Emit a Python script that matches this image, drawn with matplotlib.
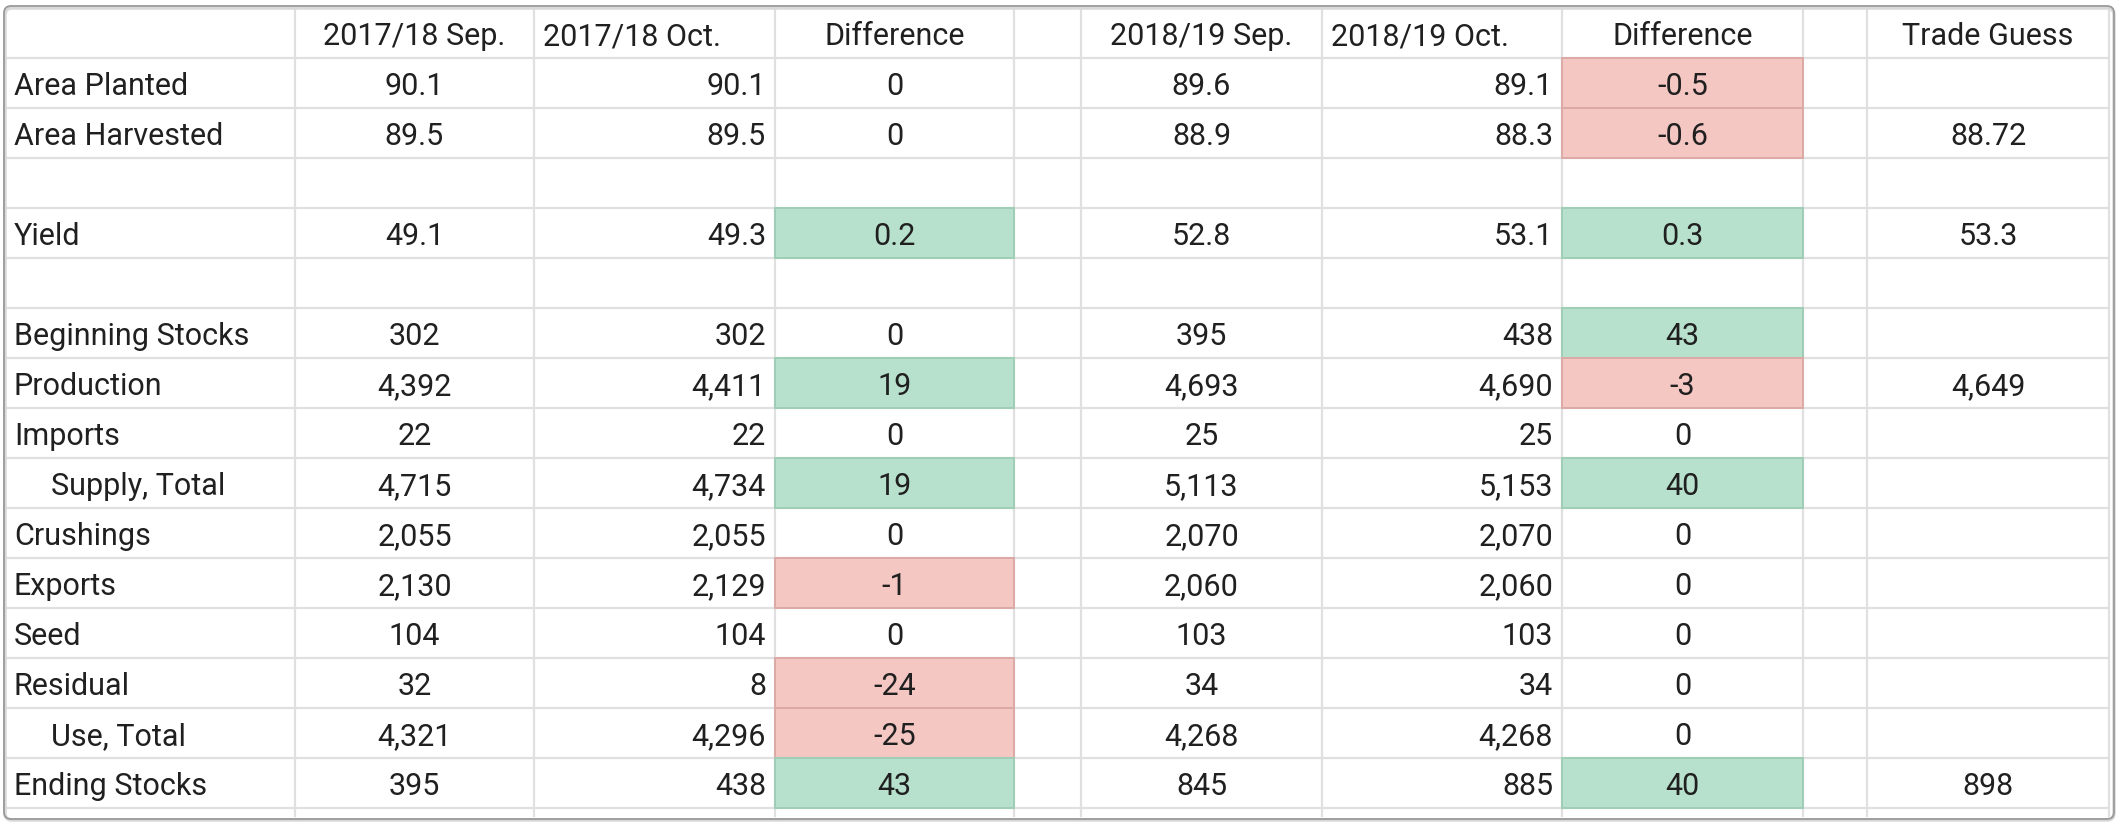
import matplotlib.pyplot as plt
from matplotlib.patches import Rectangle, FancyBboxPatch

plt.rcParams["font.family"] = ["Roboto", "DejaVu Sans"]

headers = ["", "2017/18 Sep.", "2017/18 Oct.", "Difference", "",
           "2018/19 Sep.", "2018/19 Oct.", "Difference", "", "Trade Guess"]

labels = ["Area Planted", "Area Harvested", "", "Yield", "", "Beginning Stocks",
          "Production", "Imports", "Supply, Total", "Crushings", "Exports",
          "Seed", "Residual", "Use, Total", "Ending Stocks"]
indented = ["Supply, Total", "Use, Total"]

sep_17 = ["90.1", "89.5", "", "49.1", "", "302", "4,392", "22", "4,715",
          "2,055", "2,130", "104", "32", "4,321", "395"]
oct_17 = ["90.1", "89.5", "", "49.3", "", "302", "4,411", "22", "4,734",
          "2,055", "2,129", "104", "8", "4,296", "438"]
diff_17 = ["0", "0", "", "0.2", "", "0", "19", "0", "19",
           "0", "-1", "0", "-24", "-25", "43"]
sep_18 = ["89.6", "88.9", "", "52.8", "", "395", "4,693", "25", "5,113",
          "2,070", "2,060", "103", "34", "4,268", "845"]
oct_18 = ["89.1", "88.3", "", "53.1", "", "438", "4,690", "25", "5,153",
          "2,070", "2,060", "103", "34", "4,268", "885"]
diff_18 = ["-0.5", "-0.6", "", "0.3", "", "43", "-3", "0", "40",
           "0", "0", "0", "0", "0", "40"]
trade_guess = ["", "88.72", "", "53.3", "", "", "4,649", "", "",
               "", "", "", "", "", "898"]

# layout in pixels
col_edges = [4, 295, 534, 775, 1014, 1081, 1322, 1562, 1803, 1867, 2109]
header_top = 9
row_h = 50
top = 59
text_col = "#202020"
grid_col = "#e0e0e0"
fs = 22

fig = plt.figure(figsize=(21.2, 8.28), dpi=100)
ax = fig.add_axes([0, 0, 1, 1])
ax.set_xlim(0, 2120)
ax.set_ylim(828, 0)
ax.axis("off")

n = len(labels)
bottom = top + n * row_h

# grid
for i in range(n + 1):
    y = top + i * row_h
    ax.plot([col_edges[0], col_edges[-1]], [y, y], color=grid_col, lw=1.6, zorder=1)
for x in col_edges[1:]:
    ax.plot([x, x], [header_top, bottom + 8], color=grid_col, lw=1.6, zorder=1)

# highlighted difference cells
for ci, col in ((3, diff_17), (7, diff_18)):
    for ri, v in enumerate(col):
        if v == "" or float(v) == 0:
            continue
        if float(v) > 0:
            fc, ec = "#b7e1cd", "#9fcdb5"
        else:
            fc, ec = "#f4c7c3", "#dcaaa6"
        y0 = top + ri * row_h
        ax.add_patch(Rectangle((col_edges[ci], y0), col_edges[ci + 1] - col_edges[ci], row_h,
                               facecolor=fc, edgecolor=ec, lw=1.4, zorder=2))

def put(txt, ci, y, align):
    x0, x1 = col_edges[ci], col_edges[ci + 1]
    if align == "center":
        x = (x0 + x1) / 2
    elif align == "right":
        x = x1 - 9
    else:
        x = x0 + 9
    ax.text(x, y, txt, ha=align, va="baseline", fontsize=fs, color=text_col, zorder=3)

# header
hb = header_top + 36
header_align = ["left", "center", "left", "center", "center",
                "center", "left", "center", "center", "center"]
for ci, h in enumerate(headers):
    if h:
        put(h, ci, hb, header_align[ci])

# body
columns = [(1, sep_17, "center"), (2, oct_17, "right"), (3, diff_17, "center"),
           (5, sep_18, "center"), (6, oct_18, "right"), (7, diff_18, "center"),
           (9, trade_guess, "center")]
for ri, lab in enumerate(labels):
    yb = top + ri * row_h + 36
    if lab:
        x = 51 if lab in indented else 14
        ax.text(x, yb, lab, ha="left", va="baseline", fontsize=fs, color=text_col, zorder=3)
    for ci, vals, al in columns:
        if vals[ri]:
            put(vals[ri], ci, yb, al)

# outer frame
ax.add_patch(FancyBboxPatch((5, 9), 2109, 812, boxstyle="round,pad=0,rounding_size=7",
                            facecolor="none", edgecolor="#d8d8d8", lw=2.5, zorder=4))
ax.add_patch(FancyBboxPatch((4, 7), 2110, 813, boxstyle="round,pad=0,rounding_size=7",
                            facecolor="none", edgecolor="#9a9a9a", lw=1.3, zorder=5))

fig.savefig("out.png", dpi=100)
